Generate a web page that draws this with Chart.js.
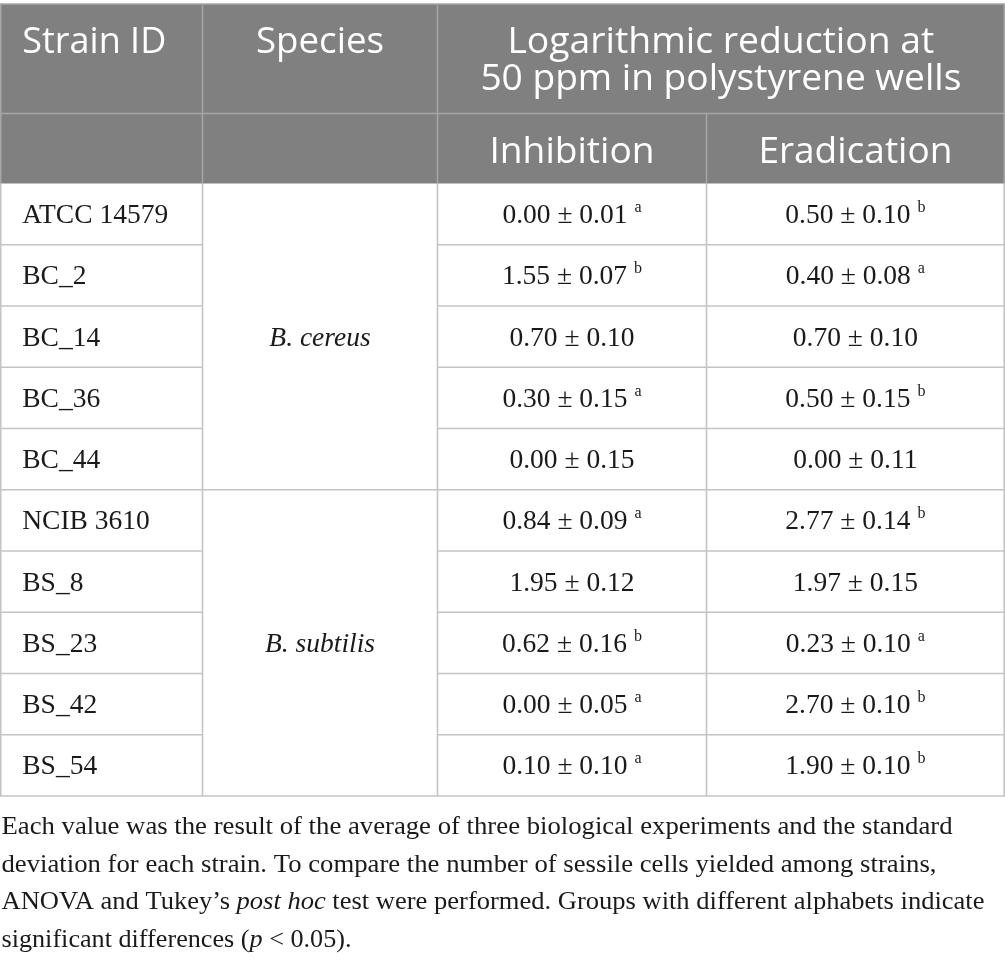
<!DOCTYPE html>
<html>
<head>
<meta charset="utf-8">
<script src="https://cdn.jsdelivr.net/npm/chart.js@4.4.1/dist/chart.umd.min.js"></script>
<style>
html,body{margin:0;padding:0;background:#fff;}
canvas{display:block;}
</style>
</head>
<body>
<canvas id="c" width="1005" height="961"></canvas>
<script>
// ---------- DATA ----------
const strainIds = ['ATCC 14579','BC_2','BC_14','BC_36','BC_44','NCIB 3610','BS_8','BS_23','BS_42','BS_54'];
const speciesNames = ['B. cereus','B. subtilis'];
const speciesOfStrain = [0,0,0,0,0,1,1,1,1,1];
const inhibitionMean = [0.00,1.55,0.70,0.30,0.00,0.84,1.95,0.62,0.00,0.10];
const inhibitionSD   = [0.01,0.07,0.10,0.15,0.15,0.09,0.12,0.16,0.05,0.10];
const inhibitionGroup = ['a','b','','a','','a','','b','a','a'];
const eradicationMean = [0.50,0.40,0.70,0.50,0.00,2.77,1.97,0.23,2.70,1.90];
const eradicationSD   = [0.10,0.08,0.10,0.15,0.11,0.14,0.15,0.10,0.10,0.10];
const eradicationGroup = ['b','a','','b','','b','','a','b','b'];
const headerTop = ['Strain ID','Species'];
const headerSpan = ['Logarithmic reduction at','50 ppm in polystyrene wells'];
const headerSub = ['Inhibition','Eradication'];
const footnoteLines = [
  [['Each value was the result of the average of three biological experiments and the standard',0]],
  [['deviation for each strain. To compare the number of sessile cells yielded among strains,',0]],
  [['ANOVA and Tukey\u2019s ',0],['post hoc',1],[' test were performed. Groups with different alphabets indicate',0]],
  [['significant differences (',0],['p',1],[' < 0.05).',0]]
];

// ---------- LAYOUT / STYLE ----------
const colEdges = [0.75, 202.5, 437.5, 706.5, 1004.25];
const headTop = 4, headMid = 113.5, bodyTop = 183.5, bodyBottom = 796;
const headBg = '#808080', headLine = '#a6a6a6', bodyLine = '#c4c4c4';
const sansFont = '"Open Sans", "DejaVu Sans", sans-serif';
const serifFont = '"Liberation Serif", "DejaVu Serif", serif';
const footBaselines = [834, 871.5, 909, 946.5];
const footFitWidths = [951, 935, 983, 350];
const footX = 1.5;

function fmt(m, s){ return m.toFixed(2) + ' \u00b1 ' + s.toFixed(2); }

function drawRuns(ctx, runs, x, y, align, fitW){
  let w = 0;
  const widths = runs.map(r => { ctx.font = r.font; const ww = ctx.measureText(r.text).width + (r.gap||0); w += ww; return ww; });
  const sx = fitW ? fitW / w : 1;
  let startX = x;
  if (align === 'center') startX = x - w*sx/2;
  else if (align === 'right') startX = x - w*sx;
  ctx.save();
  ctx.translate(startX, y);
  ctx.scale(sx, 1);
  ctx.textAlign = 'left';
  ctx.textBaseline = 'alphabetic';
  let cx = 0;
  runs.forEach((r,i) => {
    ctx.font = r.font;
    ctx.fillText(r.text, cx + (r.gap||0), r.dy||0);
    cx += widths[i];
  });
  ctx.restore();
}

function line(ctx, x1, y1, x2, y2){
  ctx.beginPath(); ctx.moveTo(x1,y1); ctx.lineTo(x2,y2); ctx.stroke();
}

const tablePlugin = {
  id: 'tablePlugin',
  beforeDraw(chart){
    const ctx = chart.ctx;
    ctx.save();
    ctx.fillStyle = '#fff';
    ctx.fillRect(0,0,chart.width,chart.height);
    ctx.restore();
  },
  afterDatasetsDraw(chart){
    const ctx = chart.ctx;
    const ys = chart.scales.y;
    const xs = chart.scales.x;
    const X = v => xs.getPixelForValue(v);
    const half = (ys.getPixelForValue(1) - ys.getPixelForValue(0)) / 2;
    const c = colEdges.map(X);

    // header background
    ctx.save();
    ctx.fillStyle = headBg;
    ctx.fillRect(c[0]-0.75, headTop, c[4]-c[0]+1.5, bodyTop-headTop);
    // header lines
    ctx.strokeStyle = headLine;
    ctx.lineWidth = 1.5;
    line(ctx, c[0]-0.75, headTop, c[4]+0.75, headTop);
    line(ctx, c[0]-0.75, headMid, c[4]+0.75, headMid);
    line(ctx, c[0], headTop, c[0], bodyTop);
    line(ctx, c[1], headTop, c[1], bodyTop);
    line(ctx, c[2], headTop, c[2], bodyTop);
    line(ctx, c[3], headMid, c[3], bodyTop);
    line(ctx, c[4], headTop, c[4], bodyTop);

    // body lines
    ctx.strokeStyle = bodyLine;
    ctx.lineWidth = 1.6;
    const top = ys.getPixelForValue(0) - half;
    const bot = ys.getPixelForValue(strainIds.length-1) + half;
    [0,1,2,3,4].forEach(k => line(ctx, c[k], top, c[k], bot));
    for (let i = 0; i < strainIds.length; i++){
      const yb = ys.getPixelForValue(i) + half;
      const lastOfGroup = i === strainIds.length-1 || speciesOfStrain[i+1] !== speciesOfStrain[i];
      if (lastOfGroup){
        line(ctx, c[0]-0.75, yb, c[4]+0.75, yb);
      } else {
        line(ctx, c[0]-0.75, yb, c[1], yb);
        line(ctx, c[2], yb, c[4]+0.75, yb);
      }
    }

    // header text
    ctx.fillStyle = '#ffffff';
    const hf = '36px ' + sansFont;
    drawRuns(ctx, [{text: headerTop[0], font: hf}], c[0]+21.5, 52.5, 'left', 144);
    drawRuns(ctx, [{text: headerTop[1], font: hf}], (c[1]+c[2])/2, 52.5, 'center', 128);
    drawRuns(ctx, [{text: headerSpan[0], font: hf}], (c[2]+c[4])/2, 53, 'center', 427);
    drawRuns(ctx, [{text: headerSpan[1], font: hf}], (c[2]+c[4])/2, 89.5, 'center', 481);
    drawRuns(ctx, [{text: headerSub[0], font: hf}], (c[2]+c[3])/2, 163, 'center', 165);
    drawRuns(ctx, [{text: headerSub[1], font: hf}], (c[3]+c[4])/2, 163, 'center', 194);

    // body text
    ctx.fillStyle = '#1a1a1a';
    const bf = '27.5px ' + serifFont;
    const sf = '16px ' + serifFont;
    const inhMeta = chart.getDatasetMeta(0);
    const eraMeta = chart.getDatasetMeta(1);
    for (let i = 0; i < strainIds.length; i++){
      const yc = ys.getPixelForValue(i);
      drawRuns(ctx, [{text: strainIds[i], font: bf}], c[0]+21.5, yc + 9, 'left');
      const pI = inhMeta.data[i], pE = eraMeta.data[i];
      const rI = [{text: fmt(inhibitionMean[i], inhibitionSD[i]), font: bf}];
      if (inhibitionGroup[i]) rI.push({text: inhibitionGroup[i], font: sf, dy: -11, gap: 7});
      drawRuns(ctx, rI, pI.x, pI.y + 9, 'center');
      const rE = [{text: fmt(eradicationMean[i], eradicationSD[i]), font: bf}];
      if (eradicationGroup[i]) rE.push({text: eradicationGroup[i], font: sf, dy: -11, gap: 7});
      drawRuns(ctx, rE, pE.x, pE.y + 9, 'center');
    }
    // species (merged cells)
    const itf = 'italic 27.5px ' + serifFont;
    speciesNames.forEach((name, g) => {
      const idx = speciesOfStrain.map((s,i)=>s===g?i:-1).filter(i=>i>=0);
      const yTop = ys.getPixelForValue(idx[0]) - half;
      const yBot = ys.getPixelForValue(idx[idx.length-1]) + half;
      drawRuns(ctx, [{text: name, font: itf}], (c[1]+c[2])/2, (yTop+yBot)/2 + 9, 'center');
    });

    // footnote
    ctx.fillStyle = '#1a1a1a';
    const ff = '24.5px ' + serifFont, fi = 'italic 24.5px ' + serifFont;
    footnoteLines.forEach((segs, li) => {
      const runs = segs.map(s => ({text: s[0], font: s[1] ? fi : ff}));
      drawRuns(ctx, runs, footX, footBaselines[li], 'left', footFitWidths[li]);
    });
    ctx.restore();
  }
};

const inhCenter = (colEdges[2] + colEdges[3]) / 2;
const eraCenter = (colEdges[3] + colEdges[4]) / 2;

new Chart(document.getElementById('c'), {
  type: 'scatter',
  data: {
    datasets: [
      { label: 'Inhibition', data: strainIds.map((s,i) => ({x: inhCenter, y: s, v: inhibitionMean[i]})), pointRadius: 0, pointHoverRadius: 0 },
      { label: 'Eradication', data: strainIds.map((s,i) => ({x: eraCenter, y: s, v: eradicationMean[i]})), pointRadius: 0, pointHoverRadius: 0 }
    ]
  },
  options: {
    responsive: false,
    animation: false,
    devicePixelRatio: 1,
    events: [],
    layout: { padding: { top: bodyTop, bottom: 961 - bodyBottom, left: 0, right: 0 } },
    plugins: { legend: { display: false }, tooltip: { enabled: false }, title: { display: false } },
    scales: {
      x: { type: 'linear', min: 0, max: 1005, display: false },
      y: { type: 'category', labels: strainIds, offset: true, display: false }
    }
  },
  plugins: [tablePlugin]
});
</script>
</body>
</html>
